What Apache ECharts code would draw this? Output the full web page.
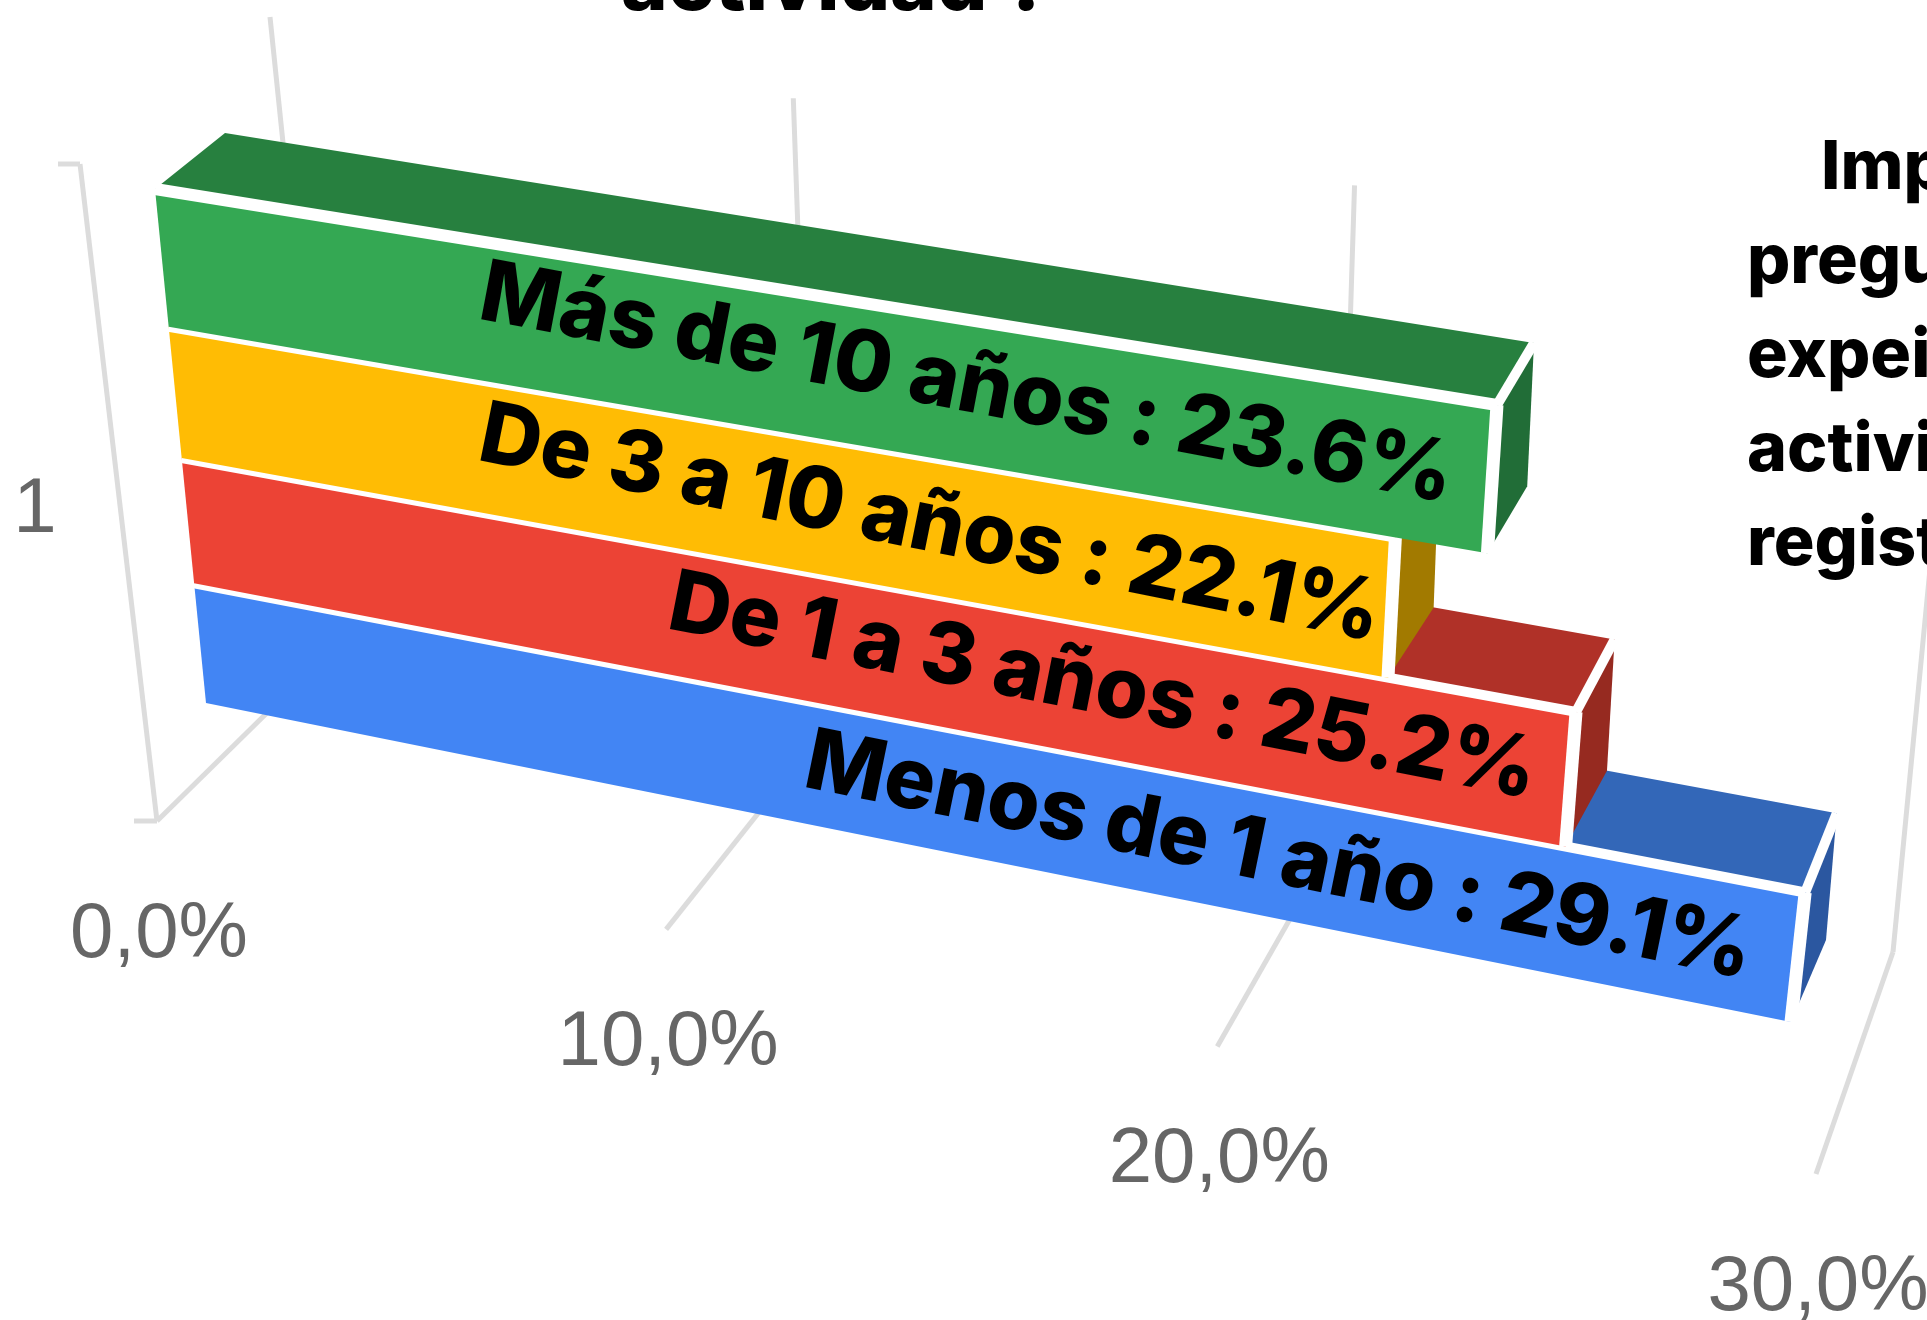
<!DOCTYPE html>
<html><head><meta charset="utf-8">
<style>html,body{margin:0;padding:0;background:#fff;overflow:hidden}#c{width:1927px;height:1320px}</style>
<script src="https://cdn.jsdelivr.net/npm/echarts@6/dist/echarts.min.js"></script>
</head><body><div id="c"></div>
<script>
// ---- data (bottom row first, the order the bars are painted in)
const categories = ['Menos de 1 año', 'De 1 a 3 años', 'De 3 a 10 años', 'Más de 10 años'];
const values = [29.1, 25.2, 22.1, 23.6];
const valueTicks = [0, 10, 20, 30];
const tickLabels = ['0,0%', '10,0%', '20,0%', '30,0%'];
const categoryAxisLabel = '1';
const titleTail = 'actividad ?';
const sideText = ['Imp', 'pregu', 'expei', 'activi', 'regist'];
const frontColors = ['#4285F4', '#EC4335', '#FFBC04', '#34A853'];
const topColors = ['#3367B8', '#B03128', '#A67C00', '#27803F'];
const sideColors = ['#2B57A0', '#962A20', '#A27A00', '#216D37'];
const labelGaps = [47, 35, 12, 40];
const labelTilts = [0.4, 0.55, 1.4, 1.3];
const labelDrops = [5, 0, 10, 4];

// ---- perspective of the picture: 4 (value, fraction) -> pixel pairs per plane
function homography(pairs) {
  const A = [];
  pairs.forEach(([[u, v], [x, y]]) => {
    A.push([u, v, 1, 0, 0, 0, -u * x, -v * x, x]);
    A.push([0, 0, 0, u, v, 1, -u * y, -v * y, y]);
  });
  for (let i = 0; i < 8; i++) {
    let p = i;
    for (let r = i + 1; r < 8; r++) if (Math.abs(A[r][i]) > Math.abs(A[p][i])) p = r;
    [A[i], A[p]] = [A[p], A[i]];
    for (let r = 0; r < 8; r++) {
      if (r === i) continue;
      const f = A[r][i] / A[i][i];
      for (let c = i; c < 9; c++) A[r][c] -= f * A[i][c];
    }
  }
  const h = A.map((row, i) => row[8] / row[i]);
  return (u, v) => {
    const w = h[6] * u + h[7] * v + 1;
    return [(h[0] * u + h[1] * v + h[2]) / w, (h[3] * u + h[4] * v + h[5]) / w];
  };
}
const frontPlane = homography([[[0, 0], [155, 189]], [[0, 1], [206, 703]], [[23.6, 0], [1497, 405]], [[29.1, 1], [1791, 1022]]]);
const backPlane = homography([[[0, 0], [225, 133]], [[0, 1], [272, 640]], [[23.6, 0], [1534, 343]], [[29.1, 1], [1826, 940]]]);
const floorPlane = homography([[[0, 0], [157, 821]], [[30, 0], [1816, 1174]], [[0, 1], [335, 646]], [[30, 1], [1893, 952]]]);
const wallPlane = homography([[[0, 0], [335, 646]], [[30, 0], [1893, 952]], [[0, 1], [270, 17]], [[30, 1], [1958, 279]]]);

const W = 1927, H = 1320;
const GRID = '#dcdcdc', AXIS_TEXT = '#666666';
const BAR_FONT = '"Inter"';
const ROW_SHRINK = 0.03; // rows get a little shorter toward the bottom

function gridToPlane(gx, gy) {
  const t = gy / H;
  return [gx / W * 30, t * (1 + ROW_SHRINK) / (1 + ROW_SHRINK * t)];
}

function renderBar(params, api) {
  const idx = api.value(0), v = api.value(1);
  const band = api.size([0, 1])[1];
  const c0 = api.coord([0, idx]), c1 = api.coord([v, idx]);
  const [u0, tTop] = gridToPlane(c0[0], c0[1] - band / 2);
  const [u1, tBot] = gridToPlane(c1[0], c1[1] + band / 2);
  const tMid = gridToPlane(c1[0], c1[1])[1];
  const fTL = frontPlane(u0, tTop), fTR = frontPlane(u1, tTop), fBR = frontPlane(u1, tBot), fBL = frontPlane(u0, tBot);
  const bTL = backPlane(u0, tTop), bTR = backPlane(u1, tTop), bBR = backPlane(u1, tBot);
  const poly = (points, fill) => ({ type: 'polygon', shape: { points }, style: { fill } });
  const edge = (a, b, w) => ({ type: 'line', shape: { x1: a[0], y1: a[1], x2: b[0], y2: b[1] }, style: { stroke: '#fff', lineWidth: w } });
  const end = frontPlane(u1, tMid), mid = frontPlane(u1 - 5, tMid);
  const angle = Math.atan2(end[1] - mid[1], end[0] - mid[0]);
  return {
    type: 'group',
    children: [
      poly([fTL, bTL, bTR, fTR], topColors[idx]),
      poly([fTR, bTR, bBR, fBR], sideColors[idx]),
      poly([fTL, fTR, fBR, fBL], frontColors[idx]),
      edge(fTL, fTR, idx === 3 ? 12 : 10),
      edge(fTR, fBR, 13),
      edge(fTR, bTR, 10),
      {
        type: 'text', x: end[0] - labelGaps[idx], y: end[1] - labelGaps[idx] * Math.tan(angle) + labelDrops[idx],
        rotation: -(angle + labelTilts[idx] * Math.PI / 180),
        style: {
          text: categories[idx] + ' : ' + v.toFixed(1) + '%', align: 'right', verticalAlign: 'middle',
          fill: '#000', font: '800 85px ' + BAR_FONT
        }
      }
    ]
  };
}

function renderTick(params, api) {
  const i = api.value(0), v = api.value(1);
  const u = api.coord([v, 0])[0] / W * 30;
  const line = (a, b) => ({ type: 'line', shape: { x1: a[0], y1: a[1], x2: b[0], y2: b[1] }, style: { stroke: GRID, lineWidth: 5 } });
  const fFront = floorPlane(u, 0), fBack = floorPlane(u, 1), wTop = wallPlane(u, 1);
  const children = [
    line(fFront, fBack), line(fBack, wTop),
    { type: 'text', x: fFront[0] + 2, y: fFront[1] + 114, style: { text: tickLabels[i], align: 'center', verticalAlign: 'middle', fill: AXIS_TEXT, font: '78px "Liberation Sans"' } }
  ];
  if (v === 0) {
    const top = [80, 164];
    children.push(line(top, fFront), line([58, 164], top), line([134, fFront[1]], fFront));
    children.push({ type: 'text', x: 35, y: 510, style: { text: categoryAxisLabel, align: 'center', verticalAlign: 'middle', fill: AXIS_TEXT, font: '78px "Liberation Sans"' } });
  }
  return { type: 'group', children };
}

const chart = echarts.init(document.getElementById('c'), null, { renderer: 'canvas', width: W, height: H });
const graphics = [{ type: 'text', x: 836, y: 26, style: { text: titleTail, align: 'center', verticalAlign: 'bottom', fill: '#000', font: '800 79.5px "Inter"' } }];
sideText.forEach((t, i) => graphics.push({
  type: 'text', x: i === 0 ? 1821 : 1747, y: 203 + i * 94,
  style: { text: t, align: 'left', verticalAlign: 'bottom', fill: '#000', font: '800 68px "Inter"' }
}));
chart.setOption({
  animation: false,
  backgroundColor: '#fff',
  grid: { left: 0, right: 0, top: 0, bottom: 0 },
  xAxis: { type: 'value', min: 0, max: 30, interval: 10, show: false },
  yAxis: { type: 'category', data: categories, show: false },
  graphic: graphics,
  series: [
    { type: 'custom', clip: false, z: 1, renderItem: renderTick, data: valueTicks.map((v, i) => [i, v]), encode: { x: 1 }, silent: true },
    { type: 'custom', clip: false, z: 2, renderItem: renderBar, data: values.map((v, i) => [i, v]), encode: { x: 1, y: 0 }, silent: true }
  ]
});
</script></body></html>
